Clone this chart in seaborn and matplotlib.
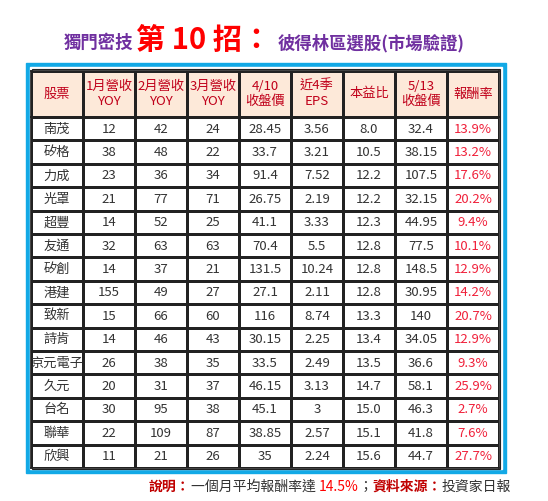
import matplotlib
matplotlib.use("Agg")
import matplotlib.pyplot as plt
import seaborn as sns
import numpy as np
import pandas as pd
from matplotlib.patches import Rectangle

sns.set_theme(style="white")
plt.rcParams['font.family'] = ['Noto Sans CJK TC', 'DejaVu Sans']

headers = ["股票", "1月營收\nYOY", "2月營收\nYOY", "3月營收\nYOY", "4/10\n收盤價", "近4季\nEPS", "本益比", "5/13\n收盤價", "報酬率"]
stocks = ["南茂", "矽格", "力成", "光罩", "超豐", "友通", "矽創", "港建", "致新", "詩肯", "京元電子", "久元", "台名", "聯華", "欣興"]
jan_yoy = ["12", "38", "23", "21", "14", "32", "14", "155", "15", "14", "26", "20", "30", "22", "11"]
feb_yoy = ["42", "48", "36", "77", "52", "63", "37", "49", "66", "46", "38", "31", "95", "109", "21"]
mar_yoy = ["24", "22", "34", "71", "25", "63", "21", "27", "60", "43", "35", "37", "38", "87", "26"]
close_0410 = ["28.45", "33.7", "91.4", "26.75", "41.1", "70.4", "131.5", "27.1", "116", "30.15", "33.5", "46.15", "45.1", "38.85", "35"]
eps4q = ["3.56", "3.21", "7.52", "2.19", "3.33", "5.5", "10.24", "2.11", "8.74", "2.25", "2.49", "3.13", "3", "2.57", "2.24"]
pe = ["8.0", "10.5", "12.2", "12.2", "12.3", "12.8", "12.8", "12.8", "13.3", "13.4", "13.5", "14.7", "15.0", "15.1", "15.6"]
close_0513 = ["32.4", "38.15", "107.5", "32.15", "44.95", "77.5", "148.5", "30.95", "140", "34.05", "36.6", "58.1", "46.3", "41.8", "44.7"]
ret = ["13.9%", "13.2%", "17.6%", "20.2%", "9.4%", "10.1%", "12.9%", "14.2%", "20.7%", "12.9%", "9.3%", "25.9%", "2.7%", "7.6%", "27.7%"]

W, H = 548, 501
fig = plt.figure(figsize=(W/100, H/100), dpi=100)

def fx(x): return x / W
def fy(y): return 1 - y / H

# blue frame
fig.patches.append(Rectangle((fx(26), fy(473)), fx(506)-fx(26), fy(63)-fy(473), transform=fig.transFigure, color="#12A9E6", zorder=-3))
fig.patches.append(Rectangle((fx(30), fy(469)), fx(502)-fx(30), fy(67)-fy(469), transform=fig.transFigure, color="white", zorder=-2))
fig.patches.append(Rectangle((fx(31.5), fy(468.5)), fx(499.5)-fx(31.5), fy(69)-fy(468.5), transform=fig.transFigure, fill=False, ec="#222222", lw=0.8, zorder=-1))

body = pd.DataFrame({h: col for h, col in zip(headers, [stocks, jan_yoy, feb_yoy, mar_yoy, close_0410, eps4q, pe, close_0513, ret])})

# header
axh = fig.add_axes([fx(31), fy(117), fx(499)-fx(31), fy(71)-fy(117)])
sns.heatmap(np.zeros((1, len(headers))), ax=axh, cmap=matplotlib.colors.ListedColormap(["#FDE9D9"]),
            cbar=False, linewidths=1, linecolor="#222222", xticklabels=False, yticklabels=False)
for j, h in enumerate(headers):
    axh.text(j + 0.5, 0.5, h, ha="center", va="center", fontsize=9.5, color="#C0001A", linespacing=1.25)

# body
axb = fig.add_axes([fx(31), fy(468), fx(499)-fx(31), fy(117)-fy(468)])
sns.heatmap(np.zeros(body.shape), ax=axb, cmap=matplotlib.colors.ListedColormap(["white"]),
            cbar=False, linewidths=1, linecolor="#222222", xticklabels=False, yticklabels=False)
for i in range(body.shape[0]):
    for j in range(body.shape[1]):
        c = "#F0203A" if j == body.shape[1] - 1 else "#333333"
        axb.text(j + 0.5, i + 0.52, body.iat[i, j], ha="center", va="center", fontsize=9.5, color=c)
for ax in (axh, axb):
    ax.set_zorder(5)
    for s in ax.spines.values():
        s.set_visible(True); s.set_color("#222222"); s.set_linewidth(1.2)

# title
fig.text(fx(64), fy(43), "獨門密技", fontsize=12.5, color="#7030A0", fontweight="bold", va="center")
fig.text(fx(136), fy(40), "第 10 招：", fontsize=21, color="#FF0000", fontweight="bold", va="center")
fig.text(fx(278), fy(43), "彼得林區選股(市場驗證)", fontsize=12.5, color="#7030A0", fontweight="bold", va="center")

# footer, chained right to left
parts = [("說明：", "#C00000", "bold"), ("一個月平均報酬率達 ", "#333333", "normal"),
         ("14.5%", "#FF0000", "normal"), ("；", "#333333", "normal"),
         ("資料來源：", "#C00000", "bold"), ("投資家日報", "#333333", "normal")]
fig.canvas.draw()
r = fig.canvas.get_renderer()
x = 511
for s, c, w in reversed(parts):
    t = fig.text(fx(x), fy(487), s, fontsize=10, color=c, fontweight=w, va="center", ha="right")
    bb = t.get_window_extent(r)
    x -= bb.width

fig.savefig("out.png", dpi=100)
